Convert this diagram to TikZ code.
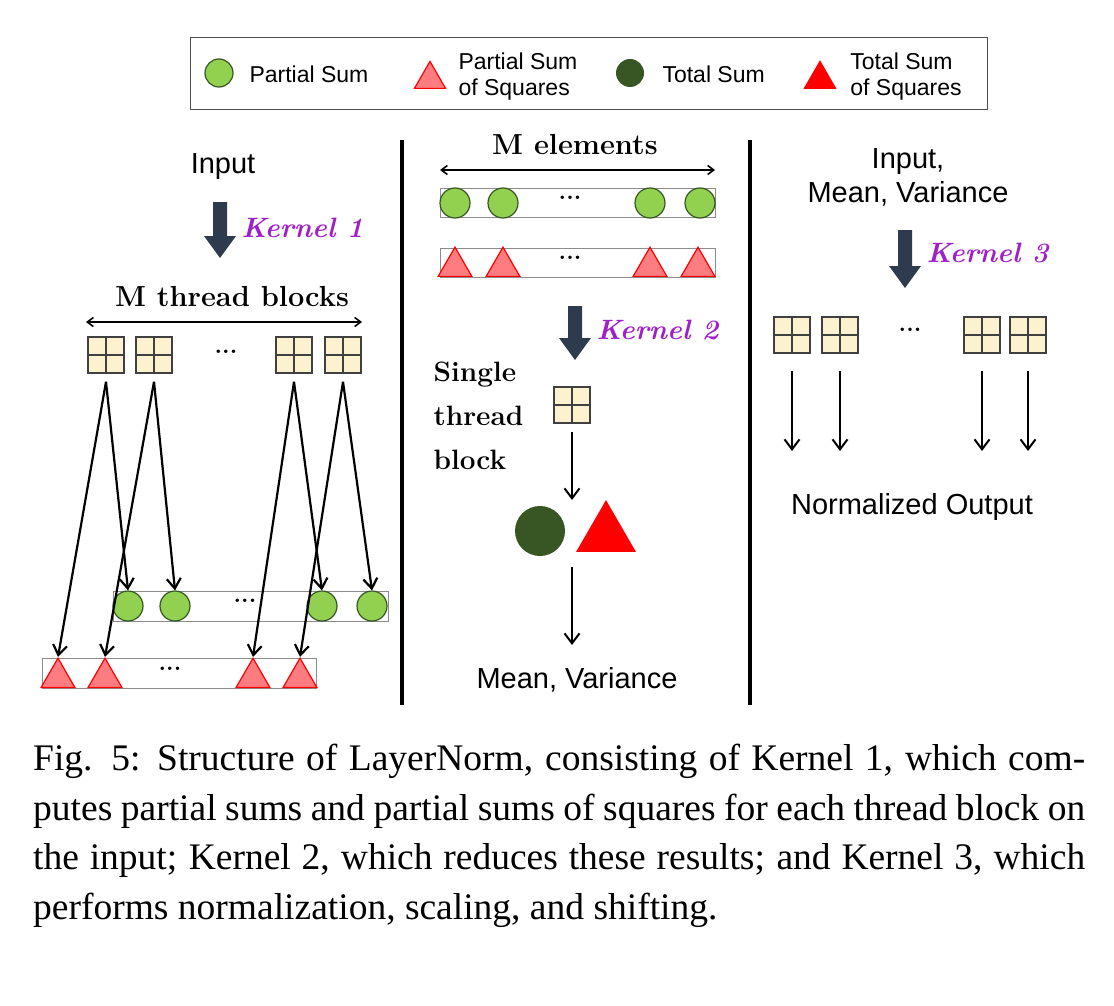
\documentclass[tikz,border=0pt]{standalone}
\usepackage{fontspec}
\usetikzlibrary{shapes.geometric,arrows.meta}
\newfontfamily\arialf{Liberation Sans}
\newfontfamily\timesf{Liberation Serif}
\definecolor{lgreen}{HTML}{92D050}
\definecolor{dgreen}{HTML}{375623}
\definecolor{pinkf}{HTML}{FF7C80}
\definecolor{blockf}{HTML}{FDF2D0}
\definecolor{karrow}{HTML}{2E3B4E}
\definecolor{kpurple}{HTML}{A020C8}
\begin{document}
\begin{tikzpicture}[x=1pt,y=-1pt,
  blk/.style={draw=black!75,line width=1.6pt,fill=blockf,minimum size=36pt,inner sep=0pt,
    path picture={\draw[black!75,line width=1.4pt](path picture bounding box.north)--(path picture bounding box.south)
      (path picture bounding box.west)--(path picture bounding box.east);}},
  gc/.style={circle,draw=dgreen,line width=1.2pt,fill=lgreen,minimum size=30pt,inner sep=0pt},
  rt/.style={regular polygon,regular polygon sides=3,draw=red,line width=1.2pt,fill=pinkf,minimum size=39pt,inner sep=0pt,anchor=south},
  row/.style={draw=black!45,line width=1pt},
  sans/.style={font=\arialf\fontsize{23}{26}\selectfont},
  sansL/.style={font=\arialf\fontsize{29}{34}\selectfont},
  bser/.style={font=\bfseries\fontsize{29}{30}\selectfont},
  kern/.style={font=\bfseries\itshape\fontsize{28}{30}\selectfont,text=kpurple,anchor=west},
  dots/.style={font=\bfseries\fontsize{24}{24}\selectfont},
  ar/.style={-{Straight Barb[length=10pt,width=14pt,line width=2.2pt]},line width=2.2pt},
  ar2/.style={-{Straight Barb[length=10pt,width=15pt]},line width=2pt},
  darr/.style={{Straight Barb[length=6pt,width=9pt]}-{Straight Barb[length=6pt,width=9pt]},line width=1.6pt}]
\useasboundingbox (0,0) rectangle (1114,1006);
\newcommand\bigarrow[3]{\fill[karrow] (#1-7,#2)--(#1+7,#2)--(#1+7,#3-22)--(#1+16,#3-22)--(#1,#3)--(#1-16,#3-22)--(#1-7,#3-22)--cycle;}
% legend
\node[draw=black!70,line width=1pt,minimum width=797pt,minimum height=72pt] (leg) at (588.5,74) {};
\node[circle,draw=dgreen,line width=1.2pt,fill=lgreen,minimum size=28pt,inner sep=0pt] (l1) at (219,73) {};
\node[sans,anchor=west] (l1t) at (246,74) {Partial Sum};
\node[rt,minimum size=36pt] (l2) at (430,89) {};
\node[sans,align=left] (l2t) at (518,77) {Partial Sum\\of Squares};
\node[circle,fill=dgreen,minimum size=28pt,inner sep=0pt] (l3) at (630,73) {};
\node[sans,anchor=west] (l3t) at (659,74) {Total Sum};
\node[rt,fill=red,draw=red,minimum size=36pt] (l4) at (820,89) {};
\node[sans,align=left] (l4t) at (906,77) {Total Sum\\of Squares};
% dividers
\draw[line width=3.5pt] (402,140) coordinate (d1a) -- (402,705) coordinate (d1b);
\draw[line width=3.5pt] (750,140) coordinate (d2a) -- (750,705) coordinate (d2b);
% left
\node[sansL] (in1) at (223,167) {Input};
\bigarrow{220}{202}{258}
\node[kern] (k1) at (238,228) {Kernel 1};
\node[bser] (mtb) at (232,297) {M thread blocks};
\coordinate (ma) at (86,322); \coordinate (mb) at (362,322);
\draw[darr] (ma)--(mb);
\node[blk] (b1) at (106,355) {};
\node[blk] (b2) at (154,355) {};
\node[dots] (bd) at (226,352) {...};
\node[blk] (b3) at (294,355) {};
\node[blk] (b4) at (343,355) {};
\node[row,minimum width=275pt,minimum height=30pt,inner sep=0pt] (grow) at (250.5,606) {};
\node[gc] (c1) at (128,606) {};
\node[gc] (c2) at (175,606) {};
\node[dots] (cd) at (245,601) {...};
\node[gc] (c3) at (322,606) {};
\node[gc] (c4) at (372,606) {};
\node[row,minimum width=274pt,minimum height=30pt,inner sep=0pt] (rrow) at (179,673) {};
\node[rt] (t1) at (58,688) {};
\node[rt] (t2) at (105,688) {};
\node[dots] (td) at (170,669) {...};
\node[rt] (t3) at (253,688) {};
\node[rt] (t4) at (300,688) {};
\foreach \i in {1,2,3,4}{
  \draw[ar] ([yshift=-8pt]b\i.south) -- (c\i.north);
  \draw[ar] ([yshift=-8pt]b\i.south) -- (t\i.north);
}
% middle
\node[bser] (me) at (575,145) {M elements};
\coordinate (ea) at (440,170); \coordinate (eb) at (715,170);
\draw[darr] (ea)--(eb);
\node[row,minimum width=275pt,minimum height=29pt,inner sep=0pt] (mg) at (577.5,203) {};
\node[gc] (m1) at (455,203) {};
\node[gc] (m2) at (503,203) {};
\node[dots] (mgd) at (570,198) {...};
\node[gc] (m3) at (650,203) {};
\node[gc] (m4) at (700,203) {};
\node[row,minimum width=275pt,minimum height=29pt,inner sep=0pt] (mr) at (577.5,263) {};
\node[rt] (n1) at (455,277) {};
\node[rt] (n2) at (503,277) {};
\node[dots] (mrd) at (570,258) {...};
\node[rt] (n3) at (650,277) {};
\node[rt] (n4) at (698,277) {};
\bigarrow{575}{306}{360}
\node[kern] (k2) at (593,330) {Kernel 2};
\node[bser,align=left,anchor=west,font=\bfseries\fontsize{28}{44}\selectfont] (stb) at (430,416) {Single\\thread\\block};
\node[blk] (sb) at (572,405) {};
\node[circle,fill=dgreen,minimum size=50pt,inner sep=0pt] (tc) at (540,531) {};
\node[regular polygon,regular polygon sides=3,fill=red,minimum size=69pt,inner sep=0pt,anchor=south] (tt) at (606,552) {};
\coordinate (mv0) at (572,567);
\coordinate (mv1) at (572,645);
\coordinate (sbe) at (572,500);
\node[sansL] (mv) at (577,680) {Mean, Variance};
\draw[ar2] ([yshift=-8pt]sb.south) -- (sbe);
\draw[ar2] (mv0) -- (mv1);
% right
\node[sansL,align=center] (in3) at (908,177) {Input,\\Mean, Variance};
\bigarrow{905}{230}{288}
\node[kern] (k3) at (923,253) {Kernel 3};
\node[blk] (r1) at (792,335) {};
\node[blk] (r2) at (840,335) {};
\node[dots] (rd) at (910,330) {...};
\node[blk] (r3) at (982,335) {};
\node[blk] (r4) at (1028,335) {};
\node[sansL] (no) at (912,507) {Normalized Output};
\foreach \x/\i in {792/1,840/2,982/3,1028/4}{
  \coordinate (re\i) at (\x,451);
  \draw[ar2] ([yshift=-17pt]r\i.south) -- (re\i);
}
% caption
\node[anchor=north west,text width=1052pt,align=justify,inner sep=0pt,
  font=\timesf\fontsize{37.5}{49.5}\selectfont] (cap) at (33,744)
 {\hyphenpenalty=10000 Fig. 5: Structure of LayerNorm, consisting of Kernel 1, which computes partial sums and partial sums of squares for each thread block on the input; Kernel 2, which reduces these results; and Kernel 3, which performs normalization, scaling, and shifting.};
\end{tikzpicture}
\end{document}
